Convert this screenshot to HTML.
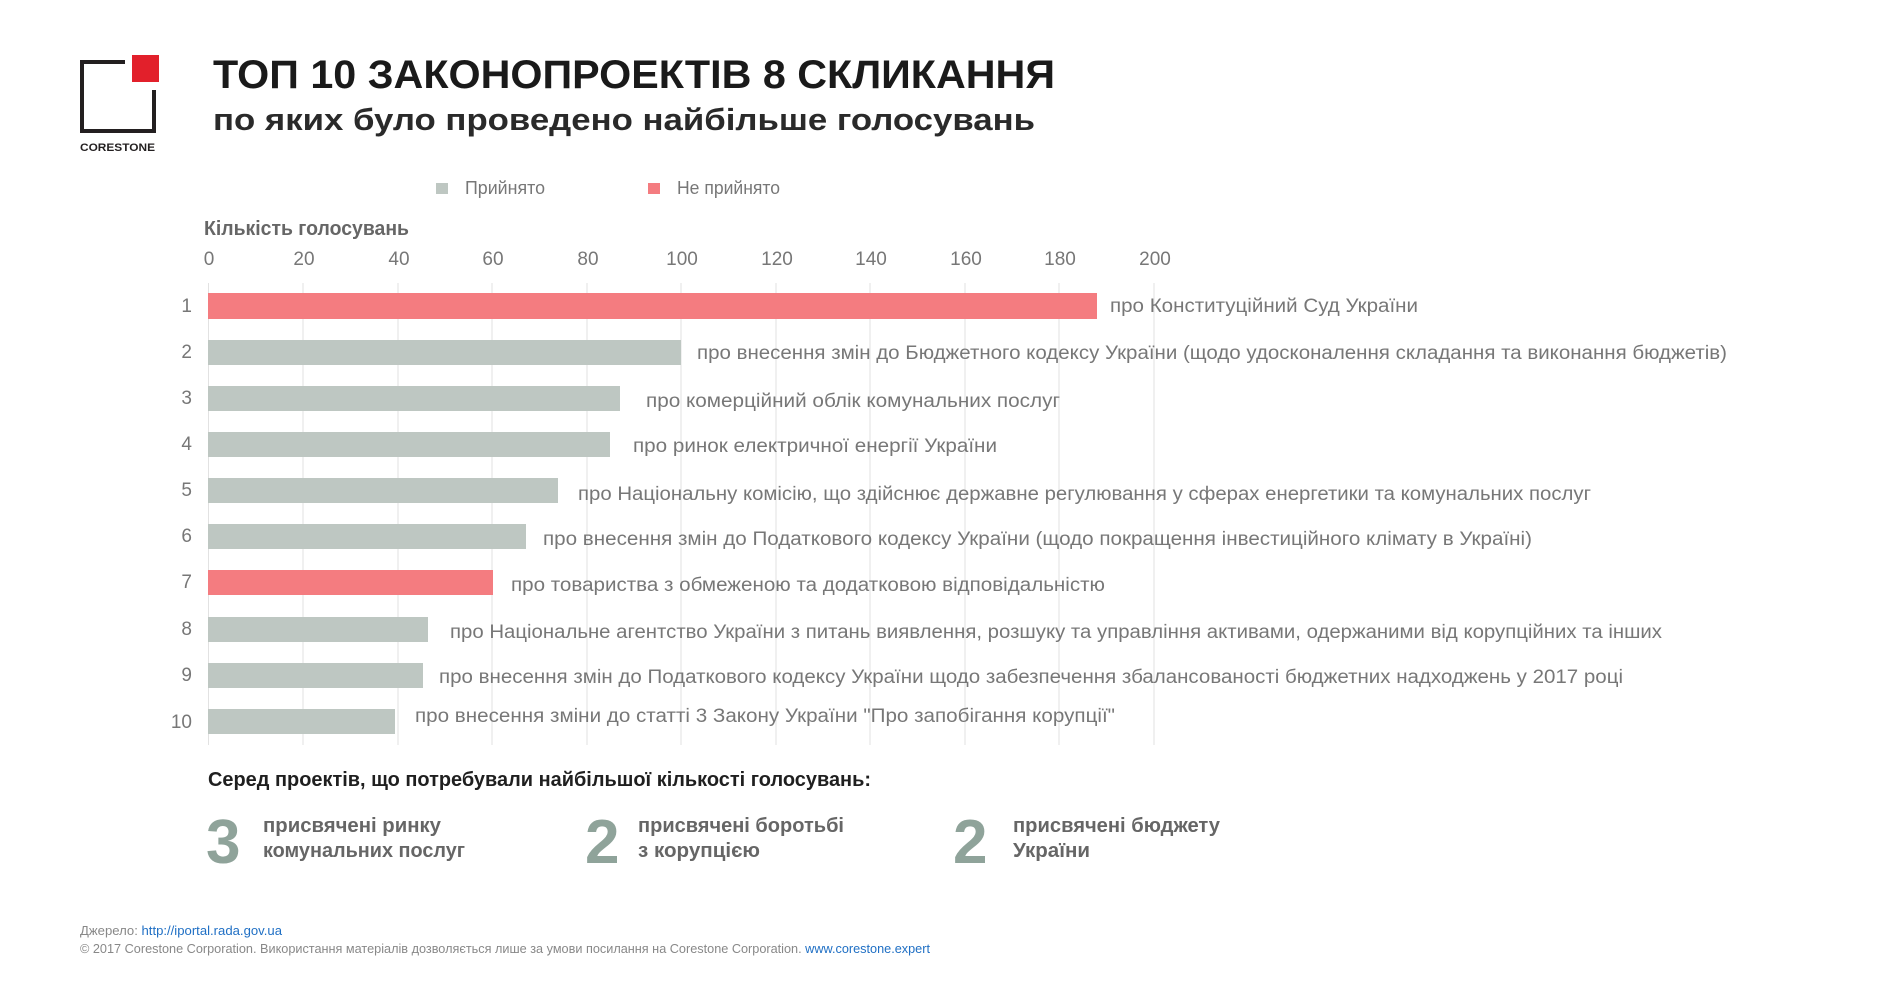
<!DOCTYPE html>
<html><head><meta charset="utf-8"><style>
html,body{margin:0;padding:0;background:#fff;}
svg{display:block;font-family:"Liberation Sans",sans-serif;}
</style></head><body>
<svg width="1880" height="984" viewBox="0 0 1880 984" xmlns="http://www.w3.org/2000/svg">
<!-- logo -->
<path d="M125 62 H82 V131 H154 V90" fill="none" stroke="#231f20" stroke-width="4"/>
<rect x="132" y="55" width="27" height="27" fill="#e2202b"/>
<text x="80" y="151" font-size="11" font-weight="bold" fill="#231f20" textLength="75" lengthAdjust="spacingAndGlyphs">CORESTONE</text>
<!-- title -->
<text x="213" y="88" font-size="40" font-weight="bold" fill="#1a1a1a" textLength="842" lengthAdjust="spacingAndGlyphs">ТОП 10 ЗАКОНОПРОЕКТІВ 8 СКЛИКАННЯ</text>
<text x="213" y="130" font-size="31" font-weight="bold" fill="#2a2a2a" textLength="822" lengthAdjust="spacingAndGlyphs">по яких було проведено найбільше голосувань</text>
<!-- legend -->
<rect x="436" y="183" width="12" height="11" fill="#bec7c2"/>
<text x="465" y="194" font-size="18" fill="#777" textLength="80" lengthAdjust="spacingAndGlyphs">Прийнято</text>
<rect x="648" y="183" width="12" height="11" fill="#f47c80"/>
<text x="677" y="194" font-size="18" fill="#777" textLength="103" lengthAdjust="spacingAndGlyphs">Не прийнято</text>
<text x="204" y="235" font-size="20" font-weight="bold" fill="#666" textLength="205" lengthAdjust="spacingAndGlyphs">Кількість голосувань</text>
<!-- grid + ticks -->
<g stroke="#e2e2e2" stroke-width="1">
<line x1="208.5" y1="283" x2="208.5" y2="745"/><line x1="303" y1="283" x2="303" y2="745"/><line x1="398" y1="283" x2="398" y2="745"/><line x1="492" y1="283" x2="492" y2="745"/><line x1="587" y1="283" x2="587" y2="745"/><line x1="681" y1="283" x2="681" y2="745"/><line x1="776" y1="283" x2="776" y2="745"/><line x1="870" y1="283" x2="870" y2="745"/><line x1="965" y1="283" x2="965" y2="745"/><line x1="1059" y1="283" x2="1059" y2="745"/><line x1="1154" y1="283" x2="1154" y2="745"/>
</g>
<g font-size="19" fill="#777" text-anchor="middle">
<text x="209" y="265">0</text><text x="304" y="265">20</text><text x="399" y="265">40</text><text x="493" y="265">60</text><text x="588" y="265">80</text><text x="682" y="265">100</text><text x="777" y="265">120</text><text x="871" y="265">140</text><text x="966" y="265">160</text><text x="1060" y="265">180</text><text x="1155" y="265">200</text>
</g>
<!-- bars -->
<g>
<rect x="208" y="293" width="889" height="26" fill="#f47c80"/>
<rect x="208" y="340" width="473" height="25" fill="#bec7c2"/>
<rect x="208" y="386" width="412" height="25" fill="#bec7c2"/>
<rect x="208" y="432" width="402" height="25" fill="#bec7c2"/>
<rect x="208" y="478" width="350" height="25" fill="#bec7c2"/>
<rect x="208" y="524" width="318" height="25" fill="#bec7c2"/>
<rect x="208" y="570" width="285" height="25" fill="#f47c80"/>
<rect x="208" y="617" width="220" height="25" fill="#bec7c2"/>
<rect x="208" y="663" width="215" height="25" fill="#bec7c2"/>
<rect x="208" y="709" width="187" height="25" fill="#bec7c2"/>
</g>
<g font-size="19" fill="#777" text-anchor="end">
<text x="192" y="312">1</text><text x="192" y="358">2</text><text x="192" y="404">3</text><text x="192" y="450">4</text><text x="192" y="496">5</text><text x="192" y="542">6</text><text x="192" y="588">7</text><text x="192" y="635">8</text><text x="192" y="681">9</text><text x="192" y="728">10</text>
</g>
<g font-size="19" fill="#777">
<text x="1110" y="312" textLength="308" lengthAdjust="spacingAndGlyphs">про Конституційний Суд України</text>
<text x="697" y="359" textLength="1030" lengthAdjust="spacingAndGlyphs">про внесення  змін до Бюджетного кодексу України (щодо удосконалення складання та виконання  бюджетів)</text>
<text x="646" y="407" textLength="414" lengthAdjust="spacingAndGlyphs">про комерційний облік комунальних послуг</text>
<text x="633" y="452" textLength="364" lengthAdjust="spacingAndGlyphs">про ринок електричної енергії України</text>
<text x="578" y="500" textLength="1013" lengthAdjust="spacingAndGlyphs">про Національну комісію, що здійснює державне регулювання у сферах енергетики та комунальних послуг</text>
<text x="543" y="545" textLength="989" lengthAdjust="spacingAndGlyphs">про внесення  змін до Податкового кодексу України (щодо покращення інвестиційного клімату в Україні)</text>
<text x="511" y="591" textLength="594" lengthAdjust="spacingAndGlyphs">про товариства з обмеженою та додатковою відповідальністю</text>
<text x="450" y="638" textLength="1212" lengthAdjust="spacingAndGlyphs">про Національне агентство України з питань  виявлення,  розшуку та управління активами, одержаними від корупційних та інших</text>
<text x="439" y="683" textLength="1184" lengthAdjust="spacingAndGlyphs">про внесення  змін до Податкового кодексу України щодо забезпечення збалансованості бюджетних надходжень у 2017 році</text>
<text x="415" y="722" textLength="700" lengthAdjust="spacingAndGlyphs">про внесення  зміни до статті 3 Закону України "Про запобігання корупції"</text>
</g>
<!-- summary -->
<text x="208" y="786" font-size="20" font-weight="bold" fill="#1f1f1f" textLength="663" lengthAdjust="spacingAndGlyphs">Серед проектів, що потребували найбільшої кількості голосувань:</text>
<g font-size="62" font-weight="bold" fill="#8fa39a">
<text x="206" y="863">3</text><text x="585" y="863">2</text><text x="953" y="863">2</text>
</g>
<g font-size="20" font-weight="bold" fill="#666">
<text x="263" y="832" textLength="178" lengthAdjust="spacingAndGlyphs">присвячені ринку</text>
<text x="263" y="857" textLength="202" lengthAdjust="spacingAndGlyphs">комунальних послуг</text>
<text x="638" y="832" textLength="206" lengthAdjust="spacingAndGlyphs">присвячені боротьбі</text>
<text x="638" y="857" textLength="122" lengthAdjust="spacingAndGlyphs">з корупцією</text>
<text x="1013" y="832" textLength="207" lengthAdjust="spacingAndGlyphs">присвячені бюджету</text>
<text x="1013" y="857" textLength="77" lengthAdjust="spacingAndGlyphs">України</text>
</g>
<!-- footer -->
<text x="80" y="935" font-size="13" fill="#888" textLength="202" lengthAdjust="spacingAndGlyphs">Джерело: <tspan fill="#1f6fc4">http://iportal.rada.gov.ua</tspan></text>
<text x="80" y="953" font-size="13" fill="#888" textLength="850" lengthAdjust="spacingAndGlyphs">© 2017 Corestone Corporation. Використання матеріалів дозволяється лише за умови посилання на Corestone Corporation. <tspan fill="#1f6fc4">www.corestone.expert</tspan></text>
</svg>
</body></html>
